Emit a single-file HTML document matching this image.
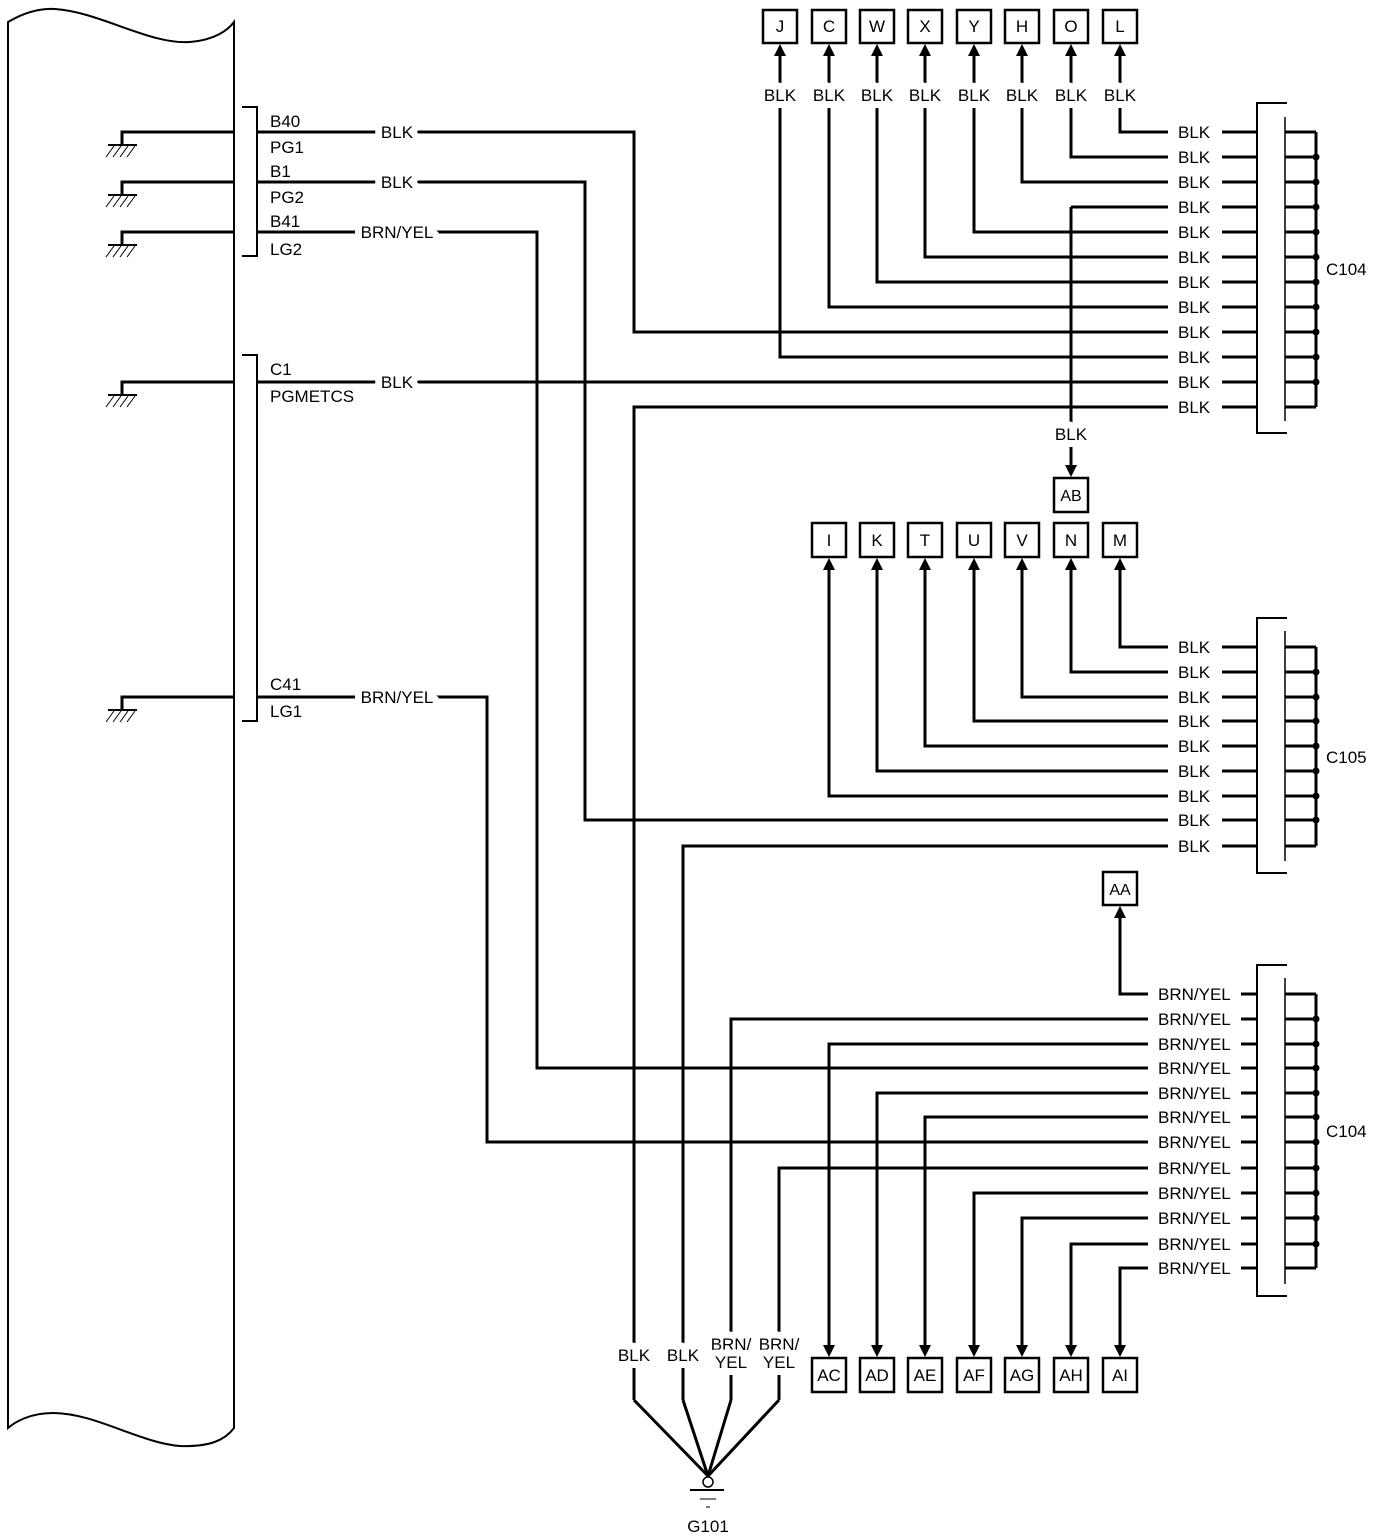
<!DOCTYPE html>
<html><head><meta charset="utf-8"><style>
html,body{margin:0;padding:0;background:#fff;}
svg{display:block;}
text{font-family:"Liberation Sans",Arial,sans-serif;font-size:17px;fill:#000;}
.bl{font-size:16px;}
.w{fill:none;stroke:#000;stroke-width:3;}
.t{fill:none;stroke:#000;stroke-width:2;}
.h{fill:none;stroke:#000;stroke-width:1;}
.halo{paint-order:stroke;stroke:#fff;stroke-width:14px;stroke-linejoin:round;}
.bx{fill:#fff;stroke:#000;stroke-width:2.5;}
.c{text-anchor:middle;}
</style></head><body>
<svg width="1392" height="1540" viewBox="0 0 1392 1540" xmlns="http://www.w3.org/2000/svg">
<path class="t" d="M8,22 C25,12 40,8 55,9 C100,12 150,45 190,42 C215,40 228,30 234,22 V1428 C225,1440 210,1447 180,1446 C140,1443 95,1413 53,1413 C30,1413 15,1422 8,1428 Z"/>
<path class="t" d="M242,107 H257 V256 H242"/>
<path class="t" d="M242,355 H257 V721 H242"/>
<g>
<path class="w" d="M234,132 H122 V144"/><path class="t" d="M108,145 H137"/>
<path class="h" d="M114,146 L106,157 M121,146 L113,157 M128,146 L120,157 M135,146 L127,157"/>
<path class="w" d="M234,182 H122 V194"/><path class="t" d="M108,195 H137"/>
<path class="h" d="M114,196 L106,207 M121,196 L113,207 M128,196 L120,207 M135,196 L127,207"/>
<path class="w" d="M234,232 H122 V244"/><path class="t" d="M108,245 H137"/>
<path class="h" d="M114,246 L106,257 M121,246 L113,257 M128,246 L120,257 M135,246 L127,257"/>
<path class="w" d="M234,382 H122 V394"/><path class="t" d="M108,395 H137"/>
<path class="h" d="M114,396 L106,407 M121,396 L113,407 M128,396 L120,407 M135,396 L127,407"/>
<path class="w" d="M234,697 H122 V709"/><path class="t" d="M108,710 H137"/>
<path class="h" d="M114,711 L106,722 M121,711 L113,722 M128,711 L120,722 M135,711 L127,722"/>
</g>
<text x="270" y="127">B40</text><text x="270" y="153">PG1</text>
<text x="270" y="177">B1</text><text x="270" y="203">PG2</text>
<text x="270" y="227">B41</text><text x="270" y="255">LG2</text>
<text x="270" y="375">C1</text><text x="270" y="402">PGMETCS</text>
<text x="270" y="690">C41</text><text x="270" y="717">LG1</text>

<path class="w" d="M258,132 H634 V332 H1168"/>
<path class="w" d="M258,182 H585 V820 H1168"/>
<path class="w" d="M258,232 H537 V1068 H1148"/>
<path class="w" d="M258,382 H1168"/>
<path class="w" d="M258,697 H487 V1142 H1148"/>
<path class="w" d="M634,1400 V407 H1168"/>
<path class="w" d="M683,1400 V846 H1168"/>
<path class="w" d="M731,1400 V1019 H1148"/>
<path class="w" d="M779,1400 V1168 H1148"/>
<path class="w" d="M1120,50 V132 H1168"/>
<path class="w" d="M1071,50 V157 H1168"/>
<path class="w" d="M1022,50 V182 H1168"/>
<path class="w" d="M1071,207 H1168 M1071,207 V470"/>
<path class="w" d="M974,50 V232 H1168"/>
<path class="w" d="M925,50 V257 H1168"/>
<path class="w" d="M877,50 V282 H1168"/>
<path class="w" d="M829,50 V307 H1168"/>
<path class="w" d="M780,50 V357 H1168"/>
<path class="w" d="M1120,564 V647 H1168"/>
<path class="w" d="M1071,564 V672 H1168"/>
<path class="w" d="M1022,564 V697 H1168"/>
<path class="w" d="M974,564 V721 H1168"/>
<path class="w" d="M925,564 V746 H1168"/>
<path class="w" d="M877,564 V771 H1168"/>
<path class="w" d="M829,564 V796 H1168"/>
<path class="w" d="M1120,912 V994 H1148"/>
<path class="w" d="M829,1351 V1044 H1148"/>
<path class="w" d="M877,1351 V1093 H1148"/>
<path class="w" d="M925,1351 V1117 H1148"/>
<path class="w" d="M974,1351 V1193 H1148"/>
<path class="w" d="M1022,1351 V1218 H1148"/>
<path class="w" d="M1071,1351 V1244 H1148"/>
<path class="w" d="M1120,1351 V1268 H1148"/>

<path class="w" d="M634,1400 L708,1476 M683,1400 L708,1476 M731,1400 L708,1476 M779,1400 L708,1476"/>
<circle cx="708" cy="1482" r="5" fill="#fff" stroke="#000" stroke-width="1.5"/>
<path class="t" d="M690,1490 H724"/>
<path class="h" d="M700,1499 H716 M706,1507 H710"/>
<text x="708" y="1532" class="c">G101</text>

<text x="397" y="138" class="c halo">BLK</text>
<text x="397" y="188" class="c halo">BLK</text>
<text x="397" y="238" class="c halo">BRN/YEL</text>
<text x="397" y="388" class="c halo">BLK</text>
<text x="397" y="703" class="c halo">BRN/YEL</text>
<text x="1071" y="440" class="c halo">BLK</text>
<g class="c halo">
<text x="780" y="101">BLK</text><text x="829" y="101">BLK</text><text x="877" y="101">BLK</text><text x="925" y="101">BLK</text>
<text x="974" y="101">BLK</text><text x="1022" y="101">BLK</text><text x="1071" y="101">BLK</text><text x="1120" y="101">BLK</text>
<text x="634" y="1361">BLK</text><text x="683" y="1361">BLK</text>
<text x="731" y="1350">BRN/</text><text x="731" y="1368">YEL</text>
<text x="779" y="1350">BRN/</text><text x="779" y="1368">YEL</text>
</g>

<g>
<text x="1178" y="138">BLK</text><text x="1178" y="163">BLK</text><text x="1178" y="188">BLK</text><text x="1178" y="213">BLK</text>
<text x="1178" y="238">BLK</text><text x="1178" y="263">BLK</text><text x="1178" y="288">BLK</text><text x="1178" y="313">BLK</text>
<text x="1178" y="338">BLK</text><text x="1178" y="363">BLK</text><text x="1178" y="388">BLK</text><text x="1178" y="413">BLK</text>
<path class="w" d="M1222,132H1257M1222,157H1257M1222,182H1257M1222,207H1257M1222,232H1257M1222,257H1257M1222,282H1257M1222,307H1257M1222,332H1257M1222,357H1257M1222,382H1257M1222,407H1257"/>
<path class="w" d="M1285,132H1316M1285,157H1316M1285,182H1316M1285,207H1316M1285,232H1316M1285,257H1316M1285,282H1316M1285,307H1316M1285,332H1316M1285,357H1316M1285,382H1316M1285,407H1316 M1316,132V407"/>
<path class="t" d="M1287,103 H1257 V433 H1287"/><path class="h" d="M1285,117 V421" style="stroke-width:1.5"/>
<g fill="#000"><circle cx="1316" cy="157" r="3.5"/><circle cx="1316" cy="182" r="3.5"/><circle cx="1316" cy="207" r="3.5"/><circle cx="1316" cy="232" r="3.5"/><circle cx="1316" cy="257" r="3.5"/><circle cx="1316" cy="282" r="3.5"/><circle cx="1316" cy="307" r="3.5"/><circle cx="1316" cy="332" r="3.5"/><circle cx="1316" cy="357" r="3.5"/><circle cx="1316" cy="382" r="3.5"/></g>
<text x="1326" y="275">C104</text>
</g>

<g>
<text x="1178" y="653">BLK</text><text x="1178" y="678">BLK</text><text x="1178" y="703">BLK</text><text x="1178" y="727">BLK</text>
<text x="1178" y="752">BLK</text><text x="1178" y="777">BLK</text><text x="1178" y="802">BLK</text><text x="1178" y="826">BLK</text><text x="1178" y="852">BLK</text>
<path class="w" d="M1222,647H1257M1222,672H1257M1222,697H1257M1222,721H1257M1222,746H1257M1222,771H1257M1222,796H1257M1222,820H1257M1222,846H1257"/>
<path class="w" d="M1285,647H1316M1285,672H1316M1285,697H1316M1285,721H1316M1285,746H1316M1285,771H1316M1285,796H1316M1285,820H1316M1285,846H1316 M1316,647V846"/>
<path class="t" d="M1287,618 H1257 V873 H1287"/><path class="h" d="M1285,631 V861" style="stroke-width:1.5"/>
<g fill="#000"><circle cx="1316" cy="672" r="3.5"/><circle cx="1316" cy="697" r="3.5"/><circle cx="1316" cy="721" r="3.5"/><circle cx="1316" cy="746" r="3.5"/><circle cx="1316" cy="771" r="3.5"/><circle cx="1316" cy="796" r="3.5"/><circle cx="1316" cy="820" r="3.5"/></g>
<text x="1326" y="763">C105</text>
</g>

<g>
<text x="1158" y="1000">BRN/YEL</text><text x="1158" y="1025">BRN/YEL</text><text x="1158" y="1050">BRN/YEL</text><text x="1158" y="1074">BRN/YEL</text>
<text x="1158" y="1099">BRN/YEL</text><text x="1158" y="1123">BRN/YEL</text><text x="1158" y="1148">BRN/YEL</text><text x="1158" y="1174">BRN/YEL</text>
<text x="1158" y="1199">BRN/YEL</text><text x="1158" y="1224">BRN/YEL</text><text x="1158" y="1250">BRN/YEL</text><text x="1158" y="1274">BRN/YEL</text>
<path class="w" d="M1241,994H1257M1241,1019H1257M1241,1044H1257M1241,1068H1257M1241,1093H1257M1241,1117H1257M1241,1142H1257M1241,1168H1257M1241,1193H1257M1241,1218H1257M1241,1244H1257M1241,1268H1257"/>
<path class="w" d="M1285,994H1316M1285,1019H1316M1285,1044H1316M1285,1068H1316M1285,1093H1316M1285,1117H1316M1285,1142H1316M1285,1168H1316M1285,1193H1316M1285,1218H1316M1285,1244H1316M1285,1268H1316 M1316,994V1268"/>
<path class="t" d="M1287,965 H1257 V1296 H1287"/><path class="h" d="M1285,978 V1284" style="stroke-width:1.5"/>
<g fill="#000"><circle cx="1316" cy="1019" r="3.5"/><circle cx="1316" cy="1044" r="3.5"/><circle cx="1316" cy="1068" r="3.5"/><circle cx="1316" cy="1093" r="3.5"/><circle cx="1316" cy="1117" r="3.5"/><circle cx="1316" cy="1142" r="3.5"/><circle cx="1316" cy="1168" r="3.5"/><circle cx="1316" cy="1193" r="3.5"/><circle cx="1316" cy="1218" r="3.5"/><circle cx="1316" cy="1244" r="3.5"/></g>
<text x="1326" y="1137">C104</text>
</g>

<g>
<rect class="bx" x="763" y="10" width="34" height="33"/><rect class="bx" x="812" y="10" width="34" height="33"/><rect class="bx" x="860" y="10" width="34" height="33"/><rect class="bx" x="908" y="10" width="34" height="33"/>
<rect class="bx" x="957" y="10" width="34" height="33"/><rect class="bx" x="1005" y="10" width="34" height="33"/><rect class="bx" x="1054" y="10" width="34" height="33"/><rect class="bx" x="1103" y="10" width="34" height="33"/>
<g class="c bl"><text x="780" y="32">J</text><text x="829" y="32">C</text><text x="877" y="32">W</text><text x="925" y="32">X</text><text x="974" y="32">Y</text><text x="1022" y="32">H</text><text x="1071" y="32">O</text><text x="1120" y="32">L</text></g>
<g fill="#000">
<polygon points="780,44 774,56 786,56"/><polygon points="829,44 823,56 835,56"/><polygon points="877,44 871,56 883,56"/><polygon points="925,44 919,56 931,56"/>
<polygon points="974,44 968,56 980,56"/><polygon points="1022,44 1016,56 1028,56"/><polygon points="1071,44 1065,56 1077,56"/><polygon points="1120,44 1114,56 1126,56"/>
</g>
</g>

<rect class="bx" x="1054" y="478" width="34" height="34"/><text x="1071" y="501" class="c bl">AB</text>
<polygon points="1071,477 1065,465 1077,465" fill="#000"/>

<g>
<rect class="bx" x="812" y="523" width="34" height="34"/><rect class="bx" x="860" y="523" width="34" height="34"/><rect class="bx" x="908" y="523" width="34" height="34"/><rect class="bx" x="957" y="523" width="34" height="34"/>
<rect class="bx" x="1005" y="523" width="34" height="34"/><rect class="bx" x="1054" y="523" width="34" height="34"/><rect class="bx" x="1103" y="523" width="34" height="34"/>
<g class="c bl"><text x="829" y="546">I</text><text x="877" y="546">K</text><text x="925" y="546">T</text><text x="974" y="546">U</text><text x="1022" y="546">V</text><text x="1071" y="546">N</text><text x="1120" y="546">M</text></g>
<g fill="#000">
<polygon points="829,558 823,570 835,570"/><polygon points="877,558 871,570 883,570"/><polygon points="925,558 919,570 931,570"/><polygon points="974,558 968,570 980,570"/>
<polygon points="1022,558 1016,570 1028,570"/><polygon points="1071,558 1065,570 1077,570"/><polygon points="1120,558 1114,570 1126,570"/>
</g>
</g>

<rect class="bx" x="1103" y="872" width="34" height="33"/><text x="1120" y="895" class="c bl">AA</text>
<polygon points="1120,906 1114,918 1126,918" fill="#000"/>

<g>
<rect class="bx" x="812" y="1358" width="34" height="34"/><rect class="bx" x="860" y="1358" width="34" height="34"/><rect class="bx" x="908" y="1358" width="34" height="34"/><rect class="bx" x="957" y="1358" width="34" height="34"/>
<rect class="bx" x="1005" y="1358" width="34" height="34"/><rect class="bx" x="1054" y="1358" width="34" height="34"/><rect class="bx" x="1103" y="1358" width="34" height="34"/>
<g class="c bl"><text x="829" y="1381">AC</text><text x="877" y="1381">AD</text><text x="925" y="1381">AE</text><text x="974" y="1381">AF</text><text x="1022" y="1381">AG</text><text x="1071" y="1381">AH</text><text x="1120" y="1381">AI</text></g>
<g fill="#000">
<polygon points="829,1357 823,1345 835,1345"/><polygon points="877,1357 871,1345 883,1345"/><polygon points="925,1357 919,1345 931,1345"/><polygon points="974,1357 968,1345 980,1345"/>
<polygon points="1022,1357 1016,1345 1028,1345"/><polygon points="1071,1357 1065,1345 1077,1345"/><polygon points="1120,1357 1114,1345 1126,1345"/>
</g>
</g>
</svg>
</body></html>
